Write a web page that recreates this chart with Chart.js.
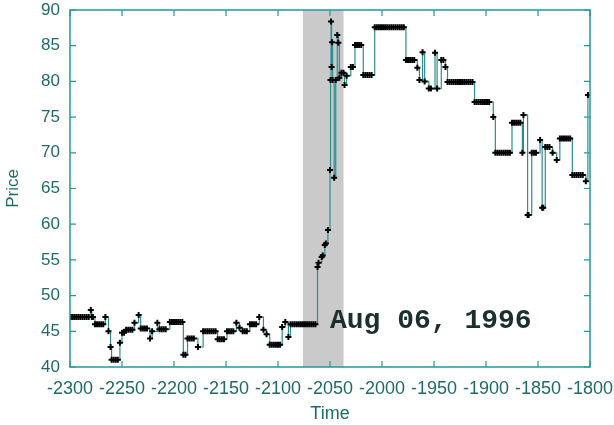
<!DOCTYPE html>
<html>
<head>
<meta charset="utf-8">
<script src="https://cdn.jsdelivr.net/npm/chart.js@4/dist/chart.umd.min.js"></script>
<style>
html,body{margin:0;padding:0;background:#fff;}
#wrap{width:614px;height:425px;position:relative;}
</style>
</head>
<body>
<div id="wrap"><canvas id="c" width="614" height="425"></canvas></div>
<script>
// ---- data ----
const times = [
-2300,-2298,-2296,-2294,-2292,-2290,-2288,-2286,-2284,-2282,-2280,-2279,-2278,
-2276,-2274,-2272,-2270,-2268,-2266,-2263,-2261,-2260,-2258,-2256,-2254,-2252,
-2250,-2248,-2246,-2244,-2242,-2240,-2238,-2234,-2232,-2230,-2228,-2226,-2223,
-2221,-2216,-2214,-2212,-2210,-2208,-2204,-2202,-2200,-2198,-2196,-2194,-2192,
-2191,-2189,-2187,-2185,-2183,-2181,-2177,-2172,-2170,-2168,-2166,-2164,-2162,
-2160,-2158,-2156,-2154,-2152,-2149,-2147,-2145,-2143,-2140,-2137,-2134,-2132,
-2130,-2127,-2125,-2123,-2121,-2118,-2114,-2111,-2108,-2106,-2104,-2102,-2100,
-2098,-2096,-2093,-2090,-2088,-2086,-2084,-2082,-2080,-2078,-2076,-2074,-2072,
-2070,-2068,-2066,-2064,-2062,-2061,-2058,-2057,-2055,-2054,-2052,-2050,-2049.5,
-2049,-2048.5,-2048,-2047.5,-2046,-2044.5,-2043,-2042,-2041,-2039,-2037,-2036,
-2034,-2030,-2028,-2026,-2024,-2022,-2020,-2018,-2016,-2014,-2012,-2010,
-2007,-2005,-2003,-2001,-1999,-1997,-1995,-1993,-1991,-1989,-1987,-1985,-1983,-1981,-1979,
-1977,-1975,-1973,-1971,-1969,-1966,-1964,-1961,-1959,-1955,-1953,-1949,-1947,
-1943,-1941,-1939,-1937,-1935,-1933,-1931,-1929,-1927,-1925,-1923,-1921,-1919,
-1917,-1915,-1913,-1911,-1909,-1907,-1905,-1903,-1901,-1899,-1897,-1893,
-1891,-1889,-1887,-1885,-1883,-1881,-1879,-1877,-1875,-1873,-1871,-1869,-1867,
-1865,-1864,-1860,-1859,-1856,-1854,-1852,-1848,-1846,-1845,-1843,-1841,-1839,
-1836,-1832,-1829,-1827,-1825,-1823,-1821,-1819,-1817,-1815,-1813,-1811,-1809,
-1807,-1804,-1802
];
const prices = [
47,47,47,47,47,47,47,47,47,47,48,47,47,
46,46,46,46,46,47,45,42.8,41,41,41,41,43.4,
44.8,44.8,45.2,45.2,45.2,45.2,46.2,47.3,45.4,45.4,45.4,45.4,44,
45,46.2,45.3,45.3,45.3,45.3,46.3,46.3,46.3,46.3,46.3,46.3,46.3,
41.7,41.7,44,44,44,44,42.8,45,45,45,45,45,45,
45,43.9,43.9,43.9,43.9,45,45,45,45,46.2,45.5,45,45,
45,46,46,46,46,47,45.2,44.6,43.1,43.1,43.1,43.1,43.1,
43.1,45.6,46.3,44.2,46,46,46,46,46,46,46,46,46,
46,46,46,46,54,54.6,55.4,55.6,57.1,57.3,59.2,67.6,80.2,
88.4,82,85.5,80.2,66.5,80.2,86.5,85.4,80.5,81.2,81.2,79.5,
80.8,82,82,85.1,85.1,85.1,85.1,80.9,80.9,80.9,80.9,80.9,
87.6,87.6,87.6,87.6,87.6,87.6,87.6,87.6,87.6,87.6,87.6,87.6,87.6,87.6,87.6,
83,83,83,83,83,81.9,80.2,84.1,80,79,79,84,79,
83,83,82,79.9,79.9,79.9,79.9,79.9,79.9,79.9,79.9,79.9,79.9,
79.9,79.9,79.9,77.1,77.1,77.1,77.1,77.1,77.1,77.1,77.1,75,
70,70,70,70,70,70,70,70,74.2,74.2,74.2,74.2,74.2,
70,75.3,61.3,61.3,70,70,70,71.8,62.3,62.3,70.8,70.8,70.8,
70,69,72,72,72,72,72,72,66.9,66.9,66.9,66.9,66.9,
66.9,66,78.1
];
const xTicks = [-2300,-2250,-2200,-2150,-2100,-2050,-2000,-1950,-1900,-1850,-1800];
const yTicks = [40,45,50,55,60,65,70,75,80,85,90];
const band = [-2076, -2037];
const note = {text: 'Aug 06, 1996', x: -2050, y: 45.4};

const AXIS = '#1f9b9b';
const TEXT = '#1f6a6a';

const framePlugin = {
  id: 'frame',
  beforeDatasetsDraw(chart) {
    const {ctx, chartArea: a, scales: {x}} = chart;
    ctx.save();
    ctx.fillStyle = '#cacaca';
    const x0 = x.getPixelForValue(band[0]), x1 = x.getPixelForValue(band[1]);
    ctx.fillRect(x0, a.top, x1 - x0, a.bottom - a.top);
    ctx.restore();
  },
  afterDatasetsDraw(chart) {
    const {ctx, chartArea: a, scales: {x, y}} = chart;
    ctx.save();
    ctx.strokeStyle = AXIS;
    ctx.lineWidth = 1.5;
    ctx.strokeRect(a.left, a.top, a.right - a.left, a.bottom - a.top);
    ctx.lineWidth = 1.2;
    ctx.beginPath();
    const L = 6;
    xTicks.forEach(v => {
      const p = x.getPixelForValue(v);
      ctx.moveTo(p, a.bottom); ctx.lineTo(p, a.bottom - L);
      ctx.moveTo(p, a.top); ctx.lineTo(p, a.top + L);
    });
    yTicks.forEach(v => {
      const p = y.getPixelForValue(v);
      ctx.moveTo(a.left, p); ctx.lineTo(a.left + L, p);
      ctx.moveTo(a.right, p); ctx.lineTo(a.right - L, p);
    });
    ctx.stroke();
    ctx.fillStyle = '#1c2e2e';
    ctx.font = 'bold 28px "Liberation Mono"';
    ctx.textAlign = 'left';
    ctx.textBaseline = 'alphabetic';
    ctx.fillText(note.text, x.getPixelForValue(note.x), y.getPixelForValue(note.y));
    ctx.restore();
  }
};

const points = times.map((t, i) => ({x: t, y: prices[i]}));

new Chart(document.getElementById('c'), {
  type: 'line',
  data: {
    datasets: [{
      data: points,
      stepped: true,
      borderColor: '#2b8f8f',
      borderWidth: 1.2,
      pointStyle: 'cross',
      pointRadius: 3,
      pointBorderColor: '#000',
      pointBackgroundColor: '#000',
      pointBorderWidth: 2,
      fill: false
    }]
  },
  options: {
    responsive: false,
    animation: false,
    events: [],
    layout: {padding: {top: 10, right: 24, left: 0, bottom: 0}},
    plugins: {legend: {display: false}, tooltip: {enabled: false}},
    scales: {
      x: {
        type: 'linear', min: -2300, max: -1800,
        afterBuildTicks: s => { s.ticks = xTicks.map(v => ({value: v})); },
        afterFit: s => { s.height = 58; s.paddingLeft = 0; s.paddingRight = 0; },
        grid: {display: false, drawTicks: false},
        border: {display: false},
        ticks: {color: TEXT, font: {family: 'Liberation Sans', size: 18}, padding: 11, maxRotation: 0, autoSkip: false,
                callback: v => String(v)},
        title: {display: true, text: 'Time', color: TEXT, font: {family: 'Liberation Sans', size: 18}, padding: {top: 0, bottom: 0}}
      },
      y: {
        type: 'linear', min: 40, max: 90,
        afterBuildTicks: s => { s.ticks = yTicks.map(v => ({value: v})); },
        afterFit: s => { s.width = 70; s.paddingTop = 0; s.paddingBottom = 0; },
        grid: {display: false, drawTicks: false},
        border: {display: false},
        ticks: {color: TEXT, font: {family: 'Liberation Sans', size: 17}, padding: 10, autoSkip: false,
                callback: v => String(v)},
        title: {display: true, text: 'Price', color: TEXT, font: {family: 'Liberation Sans', size: 17}, padding: {top: 3, bottom: 0}}
      }
    }
  },
  plugins: [framePlugin]
});
</script>
</body>
</html>
